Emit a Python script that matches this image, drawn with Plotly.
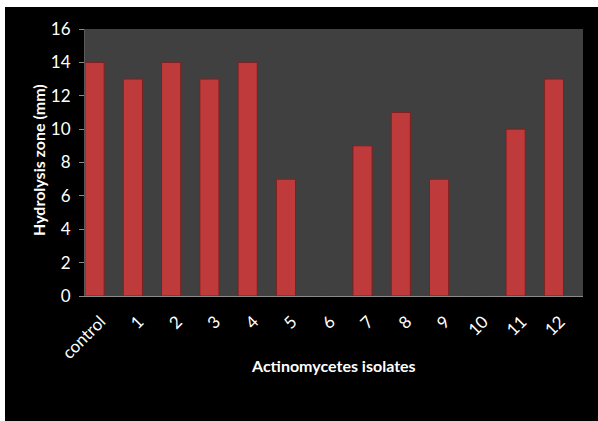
import plotly.graph_objects as go

categories = ["control", "1", "2", "3", "4", "5", "6", "7", "8", "9", "10", "11", "12"]
values = [14, 13, 14, 13, 14, 7, 0, 9, 11, 7, 0, 10, 13]
y_ticks = [0, 2, 4, 6, 8, 10, 12, 14, 16]

W, H = 598, 421
L, R, T, B = 85, 15, 29, 125
pw, ph = W - L - R, H - T - B

def px_x(p):
    return (p - L) / pw

def px_y(p):
    return (H - B - p) / ph

fig = go.Figure()
fig.add_trace(go.Bar(
    x=list(range(len(categories))),
    y=values,
    width=0.5,
    marker=dict(color="#bf3a3b", line=dict(color="#7e2020", width=1)),
    hoverinfo="y",
))

fig.update_layout(
    width=W, height=H,
    margin=dict(l=L, r=R, t=T, b=B),
    paper_bgcolor="#000000",
    plot_bgcolor="#404040",
    showlegend=False,
    font=dict(family="Lato, Open Sans, sans-serif", color="#ffffff", size=14),
    xaxis=dict(
        range=[-0.25, 12.76],
        tickmode="array",
        tickvals=list(range(len(categories))),
        ticktext=categories,
        tickangle=-45,
        ticks="",
        ticklabelshift=6,
        ticklabelstandoff=8,
        showgrid=False,
        showline=True,
        linecolor="#8a8a8a",
        linewidth=1,
        zeroline=False,
        tickfont=dict(size=17, color="#ffffff"),
    ),
    yaxis=dict(
        range=[0, 16],
        tickmode="array",
        tickvals=y_ticks,
        ticktext=[str(v) for v in y_ticks],
        ticks="outside",
        ticklen=5,
        tickcolor="#8a8a8a",
        ticklabelstandoff=5,
        showgrid=False,
        showline=True,
        linecolor="#5a5a5a",
        linewidth=1,
        zeroline=False,
        tickfont=dict(size=17, color="#ffffff"),
    ),
    annotations=[
        dict(text="<b>Actinomycetes isolates</b>", xref="paper", yref="paper",
             x=px_x(333), y=px_y(365), xanchor="center", yanchor="middle",
             showarrow=False, font=dict(size=16, color="#ffffff")),
        dict(text="<b>Hydrolysis zone (mm)</b>", xref="paper", yref="paper",
             x=px_x(38), y=px_y(160), xanchor="center", yanchor="middle", textangle=-90,
             showarrow=False, font=dict(size=16, color="#ffffff")),
    ],
    shapes=[
        dict(type="rect", xref="paper", yref="paper", layer="above",
             x0=px_x(0), x1=px_x(W), y0=px_y(7), y1=px_y(0),
             fillcolor="#ffffff", line=dict(width=0)),
        dict(type="rect", xref="paper", yref="paper", layer="above",
             x0=px_x(0), x1=px_x(5), y0=px_y(H), y1=px_y(0),
             fillcolor="#ffffff", line=dict(width=0)),
    ],
)

fig.write_html("out.html")
